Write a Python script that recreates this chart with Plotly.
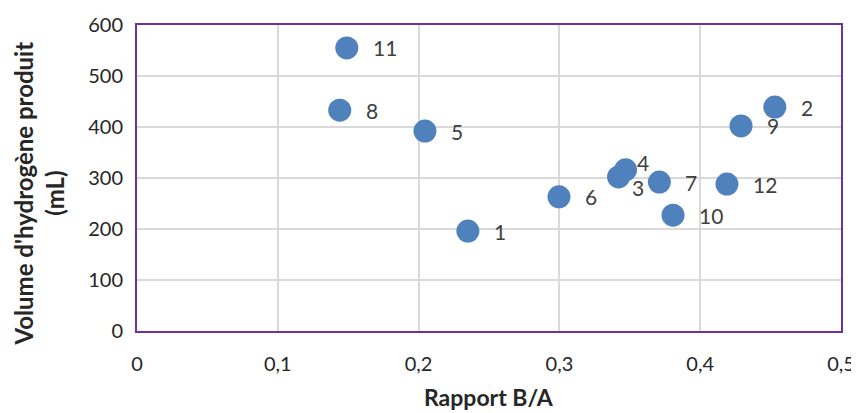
import plotly.graph_objects as go

labels = ["1", "2", "3", "4", "5", "6", "7", "8", "9", "10", "11", "12"]
ratio_ba = [0.235, 0.453, 0.342, 0.347, 0.2045, 0.2997, 0.371, 0.144, 0.429, 0.3807, 0.149, 0.419]
volume_ml = [196, 439, 302, 316, 392, 263, 292, 433, 402, 227, 555, 288]
x_ticks = [0, 0.1, 0.2, 0.3, 0.4, 0.5]
x_tick_text = ["0", "0,1", "0,2", "0,3", "0,4", "0,5"]
y_ticks = [0, 100, 200, 300, 400, 500, 600]

label_shift = {"3": (11, -11), "4": (9, 7)}

FONT = "Lato, 'Open Sans', sans-serif"

fig = go.Figure()
fig.add_trace(go.Scatter(
    x=ratio_ba, y=volume_ml, mode="markers",
    marker=dict(size=23, color="#4F81BD"),
    showlegend=False, hoverinfo="x+y",
))

for lab, xv, yv in zip(labels, ratio_ba, volume_ml):
    dx, dy = label_shift.get(lab, (24, 0))
    fig.add_annotation(x=xv, y=yv, text=lab, showarrow=False,
                       xanchor="left", yanchor="middle",
                       xshift=dx, yshift=dy,
                       font=dict(family=FONT, size=21, color="#404040"))

fig.add_annotation(xref="paper", yref="paper", x=0.5, y=-0.215,
                   text="<b>Rapport B/A</b>", showarrow=False,
                   xanchor="center", yanchor="middle",
                   font=dict(family=FONT, size=23, color="#262626"))
fig.add_annotation(xref="paper", yref="paper", x=-0.139, y=0.45,
                   text="<b>Volume d'hydrogène produit<br>(mL)</b>", showarrow=False,
                   textangle=-90, xanchor="center", yanchor="middle",
                   font=dict(family=FONT, size=24, color="#262626"))

fig.update_layout(
    width=851, height=405,
    margin=dict(l=129, r=18, t=17, b=82, autoexpand=False),
    paper_bgcolor="white", plot_bgcolor="white",
    font=dict(family=FONT, color="#262626"),
)
fig.update_xaxes(
    range=[0, 0.5], tickvals=x_ticks, ticktext=x_tick_text,
    showgrid=True, gridcolor="#D9D9D9", gridwidth=2,
    showline=True, linecolor="#7030A0", linewidth=2, mirror=True,
    zeroline=False, ticks="outside", ticklen=14, tickcolor="rgba(0,0,0,0)",
    tickfont=dict(size=20, color="#262626"), automargin=False,
)
fig.update_yaxes(
    range=[0, 600], tickvals=y_ticks,
    showgrid=True, gridcolor="#D9D9D9", gridwidth=2,
    showline=True, linecolor="#7030A0", linewidth=2, mirror=True,
    zeroline=False, ticks="outside", ticklen=8, tickcolor="rgba(0,0,0,0)",
    tickfont=dict(size=20, color="#262626"), automargin=False,
)

fig.write_html("out.html")
